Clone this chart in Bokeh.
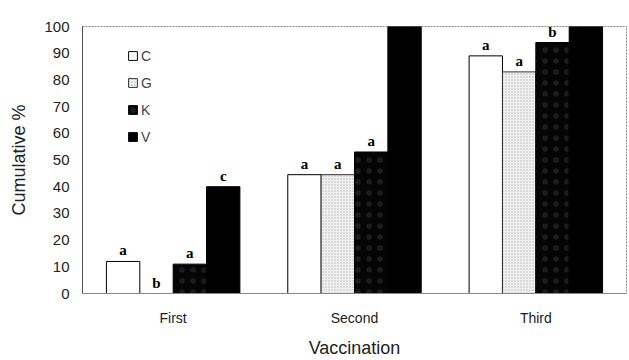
from bokeh.plotting import figure
from bokeh.models import ColumnDataSource, FactorRange, FixedTicker, Legend, LegendItem
from bokeh.transform import dodge
from bokeh.core.properties import value
from bokeh.embed import file_html
from bokeh.resources import INLINE

groups = ["First", "Second", "Third"]
series = ["C", "G", "K", "V"]
vals_C = [12, 44.5, 89]
vals_G = [0, 44.5, 83]
vals_K = [11, 53, 94]
vals_V = [40, 100, 100]
let_C = ["a", "a", "a"]
let_G = ["b", "a", "a"]
let_K = ["a", "a", "b"]
let_V = ["c", "b", "c"]
yticks = list(range(0, 101, 10))
x_title = "Vaccination"
y_title = "Cumulative %"

p = figure(width=629, height=360, x_range=FactorRange(*groups), y_range=(0, 100),
           output_backend="svg", toolbar_location=None,
           min_border_left=82, min_border_right=3, min_border_top=26, min_border_bottom=40)

bw = 0.184
offsets = [-1.5 * bw, -0.5 * bw, 0.5 * bw, 1.5 * bw]
styles = [
    dict(fill_color="white", line_color="black"),
    dict(fill_color="#f1f1f1", line_color="#333333", hatch_pattern="dot", hatch_color="#b5b5b5", hatch_scale=3, hatch_weight=0.8),
    dict(fill_color="#050505", line_color="black", hatch_pattern="dot", hatch_color="#1c1c1c", hatch_scale=11, hatch_weight=0.4),
    dict(fill_color="black", line_color="black"),
]
data = [vals_C, vals_G, vals_K, vals_V]
lets = [let_C, let_G, let_K, let_V]

items = []
for name, off, st, vals, lt in zip(series, offsets, styles, data, lets):
    src = ColumnDataSource(dict(x=groups, y=vals, t=lt))
    r = p.vbar(x=dodge("x", off, range=p.x_range), top="y", width=bw, source=src, line_width=1, **st)
    items.append(LegendItem(label=name, renderers=[r]))
    p.text(x=dodge("x", off, range=p.x_range), y="y", text="t", source=src,
           text_font=value("Liberation Serif"), text_font_style="bold", text_font_size="15px",
           text_align="center", text_baseline="bottom", y_offset=-3, text_color="black")

legend = Legend(items=items, location=(45, 148), border_line_color=None, background_fill_alpha=0,
                glyph_width=11, glyph_height=11, label_text_font_size="14px",
                label_text_font="Liberation Sans", spacing=10, padding=5, label_standoff=3,
                label_height=17)
p.add_layout(legend, "center")

p.yaxis.ticker = FixedTicker(ticks=yticks)
p.xaxis.axis_label = x_title
p.yaxis.axis_label = y_title
for ax in (p.xaxis, p.yaxis):
    ax.major_tick_line_color = None
    ax.minor_tick_line_color = None
    ax.axis_line_color = "#555555"
    ax.axis_label_text_font = "Liberation Sans"
    ax.axis_label_text_font_style = "normal"
    ax.axis_label_text_font_size = "18px"
    ax.axis_label_text_color = "#222222"
    ax.major_label_text_font = "Liberation Sans"
    ax.major_label_text_color = "#222222"
    ax.major_label_text_font_size = "14px"
p.yaxis.major_label_text_font_size = "15px"
p.xaxis.axis_line_color = "#888888"
p.xaxis.major_label_standoff = 10
p.xaxis.axis_label_standoff = 9
p.yaxis.axis_label_standoff = 12
p.yaxis.major_label_standoff = 7
p.xgrid.grid_line_color = None
p.ygrid.grid_line_color = None
p.outline_line_color = "#888888"
p.outline_line_dash = "2 1"
p.x_range.range_padding = 0
p.x_range.group_padding = 0

open("out.html", "w").write(file_html(p, INLINE))
